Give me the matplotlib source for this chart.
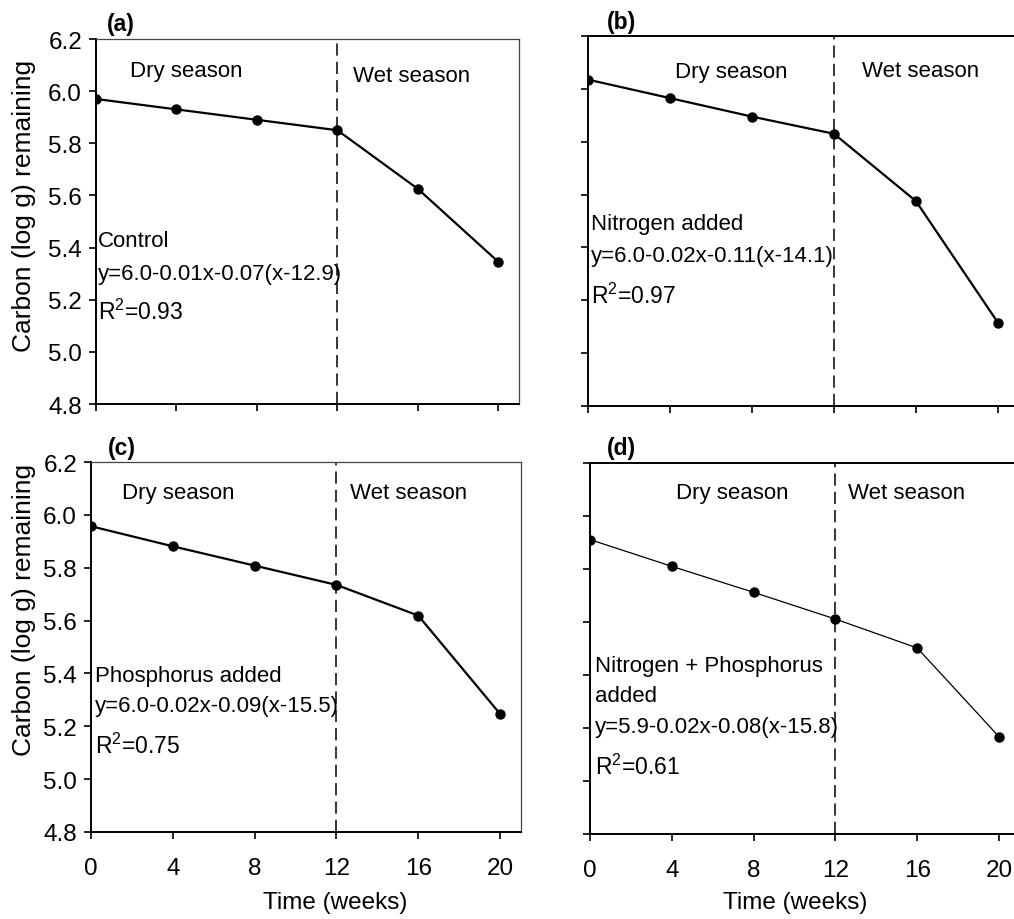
import numpy as np
import matplotlib
matplotlib.use('Agg')
import matplotlib.pyplot as plt

# ================== data ===============================
weeks = [0, 4, 8, 12, 16, 20]
carbon_control = [5.97, 5.93, 5.89, 5.85, 5.625, 5.345]
carbon_nitrogen = [6.035, 5.965, 5.895, 5.83, 5.575, 5.115]
carbon_phosphorus = [5.957, 5.881, 5.808, 5.735, 5.619, 5.247]
carbon_np = [5.911, 5.81, 5.712, 5.611, 5.502, 5.167]

panel_tags = ['(a)', '(b)', '(c)', '(d)']
treatments = ['Control', 'Nitrogen added', 'Phosphorus added', 'Nitrogen + Phosphorus\nadded']
equations = ['y=6.0-0.01x-0.07(x-12.9)', 'y=6.0-0.02x-0.11(x-14.1)',
             'y=6.0-0.02x-0.09(x-15.5)', 'y=5.9-0.02x-0.08(x-15.8)']
r2_values = ['0.93', '0.97', '0.75', '0.61']

yticks = [4.8, 5.0, 5.2, 5.4, 5.6, 5.8, 6.0, 6.2]
xticks = [0, 4, 8, 12, 16, 20]
season_break = 12

# ================== style ==============================
plt.rcParams['font.family'] = ['Liberation Sans', 'DejaVu Sans']
plt.rcParams['mathtext.fontset'] = 'custom'
plt.rcParams['mathtext.rm'] = 'Liberation Sans'
plt.rcParams['mathtext.it'] = 'Liberation Sans'

W, H = 1014, 920
fig = plt.figure(figsize=(W / 100, H / 100), dpi=100)

# axes boxes in pixels: left, right, top, bottom
boxes = [(96, 518.5, 40, 405), (588, 1018.5, 37, 407),
         (91, 520.5, 463, 833), (590, 1019.5, 464, 835)]
series = [carbon_control, carbon_nitrogen, carbon_phosphorus, carbon_np]
line_w = [1.6, 1.6, 1.6, 0.9]

# text positions (data coords)
dry_pos = [(4.5, 6.08), (7.0, 6.065), (4.25, 6.086), (6.94, 6.09)]
wet_pos = [(15.7, 6.06), (16.2, 6.07), (15.55, 6.086), (15.5, 6.09)]
note_x = [0.1, 0.13, 0.2, 0.25]
treat_y = [5.407, 5.468, 5.373, 5.416]
eq_y = [5.279, 5.348, 5.259, 5.184]
r2_y = [5.125, 5.191, 5.101, 5.026]
tag_px = [(121, 24), (621, 22), (122, 449), (621, 449)]
TXT = 16

for i in range(4):
    l, r, t, b = boxes[i]
    ax = fig.add_axes([l / W, 1 - b / H, (r - l) / W, (b - t) / H])
    ax.plot(weeks, series[i], color='black', lw=line_w[i], marker='o', ms=6.5)
    ax.axvline(season_break, color='black', lw=1.1, ls=(0, (8, 4)))

    ax.set_xlim(0, 21)
    ax.set_ylim(4.8, 6.2)
    ax.set_xticks(xticks)
    ax.set_yticks(yticks)
    ax.tick_params(direction='out', length=5, width=1.2, labelsize=17.5, pad=5)
    ax.tick_params(axis='x', pad=13)

    for s in ['left', 'bottom']:
        ax.spines[s].set_linewidth(1.4)
    if i in (0, 2):
        for s in ['top', 'right']:
            ax.spines[s].set_linewidth(0.9)
            ax.spines[s].set_color('#444444')
        ax.set_yticklabels([f'{v:.1f}' for v in yticks])
    else:
        ax.spines['top'].set_linewidth(1.4)
        ax.set_yticklabels([])
    if i in (0, 1):
        ax.set_xticklabels([])

    ax.text(*dry_pos[i], 'Dry season', fontsize=TXT, ha='center', va='center')
    ax.text(*wet_pos[i], 'Wet season', fontsize=TXT, ha='center', va='center')

    if '\n' in treatments[i]:
        first, second = treatments[i].split('\n')
        ax.text(note_x[i], treat_y[i], first, fontsize=TXT, ha='left', va='baseline')
        ax.text(note_x[i], treat_y[i] - 0.113, second, fontsize=TXT, ha='left', va='baseline')
    else:
        ax.text(note_x[i], treat_y[i], treatments[i], fontsize=TXT, ha='left', va='baseline')
    ax.text(note_x[i], eq_y[i], equations[i], fontsize=TXT, ha='left', va='baseline')
    ax.text(note_x[i], r2_y[i], r'R$^{2}$=' + r2_values[i], fontsize=TXT + 0.5,
            ha='left', va='baseline')

    fig.text(tag_px[i][0] / W, 1 - tag_px[i][1] / H, panel_tags[i],
             fontsize=16.5, fontweight='bold', ha='center', va='center')

# axis titles
ylab = 'Carbon (log g) remaining'
fig.text(24 / W, 1 - 206 / H, ylab, rotation=90, fontsize=19, ha='center', va='center')
fig.text(24 / W, 1 - 610 / H, ylab, rotation=90, fontsize=19, ha='center', va='center')
fig.text(335 / W, 1 - 903 / H, 'Time (weeks)', fontsize=17.5, ha='center', va='center')
fig.text(795 / W, 1 - 903 / H, 'Time (weeks)', fontsize=17.5, ha='center', va='center')

fig.savefig('out.png', dpi=100)
